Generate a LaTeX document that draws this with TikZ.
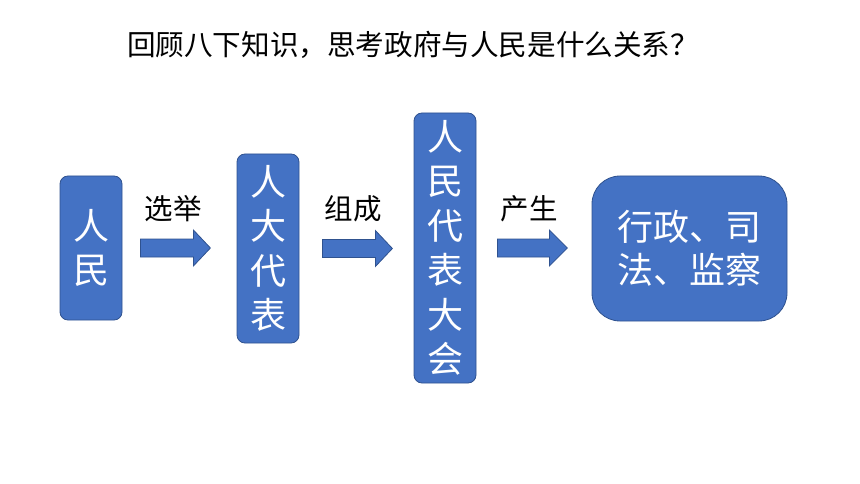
\documentclass[tikz,border=0pt]{standalone}
\usepackage{fontspec}
\setmainfont{Noto Sans CJK SC}
\usetikzlibrary{calc}

\definecolor{boxblue}{HTML}{4472C4}
\definecolor{boxline}{HTML}{2F528F}

\begin{document}
\begin{tikzpicture}[x=1pt,y=-1pt,
    organ/.style={draw=boxline,line width=0.8pt,fill=boxblue,text=white,
      rounded corners=8pt,inner sep=0pt,align=center,
      font=\fontsize{36}{44.5}\selectfont},
    flowarrow/.style={draw=boxline,line width=0.8pt,fill=boxblue},
    verb/.style={font=\fontsize{28.5}{30}\selectfont}]
  % Define the frame of the page
  \useasboundingbox (0,0) rectangle (860,484);

  % Title
  \node[font=\fontsize{28.6}{32}\selectfont] (title) at (413,45) {回顾八下知识，思考政府与人民是什么关系？};

  % Define the boxes
  \node[organ,minimum width=62pt,minimum height=144pt] (renmin) at (91,248) {人\\民};
  \node[organ,minimum width=62pt,minimum height=189pt] (daibiao) at (268,248.5) {人\\大\\代\\表};
  \node[organ,minimum width=62pt,minimum height=270pt] (dahui) at (445,248) {人\\民\\代\\表\\大\\会};
  \node[organ,rounded corners=28pt,minimum width=195pt,minimum height=145pt,
    font=\fontsize{36}{43}\selectfont] (jiguan) at (689.5,248.5) {行政、司\\法、监察};

  % Draw the arrows between the boxes
  \draw[flowarrow] ($(renmin.east)+(18,-9)$) -- ++(53,0) -- ++(0,-9) -- ++(17,18)
    -- ++(-17,18) -- ++(0,-9) -- ++(-53,0) -- cycle;
  \draw[flowarrow] ($(daibiao.east)+(23,-9)$) -- ++(53,0) -- ++(0,-9) -- ++(17,18)
    -- ++(-17,18) -- ++(0,-9) -- ++(-53,0) -- cycle;
  \draw[flowarrow] ($(dahui.east)+(21,-9)$) -- ++(52,0) -- ++(0,-9) -- ++(18,18)
    -- ++(-18,18) -- ++(0,-9) -- ++(-52,0) -- cycle;

  % Labels above the arrows
  \node[verb] (xuanju) at (173,209) {选举};
  \node[verb] (zucheng) at (353,209) {组成};
  \node[verb] (chansheng) at (529,209) {产生};
\end{tikzpicture}
\end{document}
